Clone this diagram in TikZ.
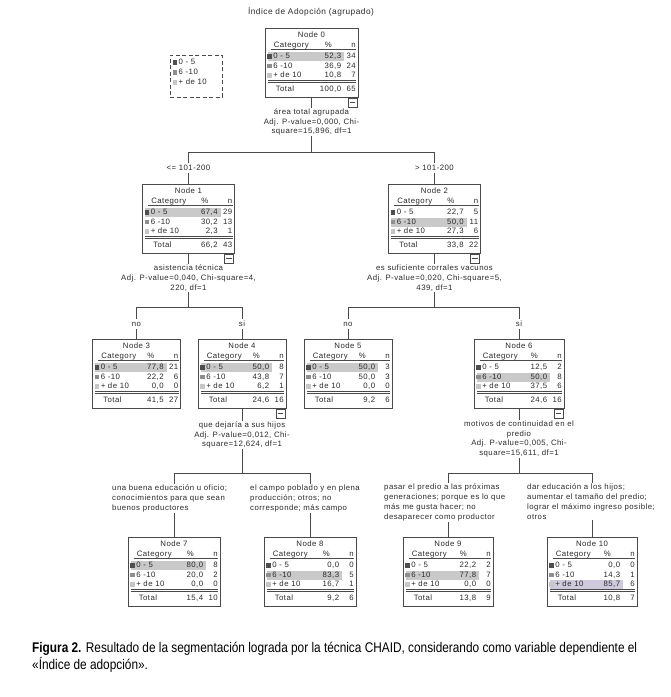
\documentclass[tikz,border=0pt]{standalone}
\usepackage{fontspec}
\usepackage{graphicx}
\setmainfont{Liberation Sans}
\newfontfamily\spss[LetterSpace=6]{Liberation Sans}
\newfontfamily\capfont{Liberation Sans}
\usetikzlibrary{backgrounds}
\definecolor{ink}{HTML}{2A2A2A}
\definecolor{edge}{HTML}{4A4A4A}
\definecolor{hlc}{HTML}{C9C9C9}
\definecolor{hlp}{HTML}{CFC9DD}
\definecolor{mka}{HTML}{4E4E4E}
\definecolor{mkb}{HTML}{8E8E8E}
\definecolor{mkc}{HTML}{C6C6C6}
\tikzset{
  fnt/.style={font=\spss\fontsize{7.8}{9.7}\selectfont, text=ink},
  tx/.style={fnt, inner sep=0pt, text height=5.6pt, text depth=1.6pt},
  tbox/.style={draw=edge, line width=0.8pt, fill=white, minimum height=69pt, inner sep=0pt},
  rule/.style={draw=edge, line width=0.6pt},
  conn/.style={draw=edge, line width=0.8pt},
  splitlbl/.style={fnt, align=center, fill=white, inner xsep=2pt, inner ysep=1pt},
  branchlbl/.style={tx, fill=white, inner sep=1.5pt},
  leaflbl/.style={fnt, align=left, fill=white, inner sep=1pt, anchor=north west},
  minusbox/.style={draw=edge, line width=0.6pt, fill=white, minimum size=9pt, inner sep=0pt},
}
\newcommand\hlcol{hlc}
% #1 name, #2 centre x, #3 top y, #4 width, #5 number, #6 highlighted row, #7 minus box
\newcommand\tbl[7]{%
  \node[tbox, minimum width=#4pt, anchor=north] (#1) at (#2,#3) {};
  \pgfmathsetmacro\hlt{14.5+9.5*#6}%
  \pgfmathsetmacro\hlb{23.5+9.5*#6}%
  \fill[\hlcol] ([shift={(3,\hlt)}]#1.north west) rectangle ([shift={(-14,\hlb)}]#1.north east);
  \node[tx] (#1t) at ([shift={(0,7)}]#1.north) {Node #5};
  \node[tx, anchor=west] (#1ca) at ([shift={(9,17)}]#1.north west) {Category};
  \node[tx] (#1pc) at ([shift={(-30,17)}]#1.north east) {\%};
  \node[tx, anchor=east] (#1nh) at ([shift={(-2.5,17)}]#1.north east) {n};
  \draw[rule] ([shift={(6,21.5)}]#1.north west) -- ([shift={(-2,21.5)}]#1.north east);
  \fill[mka] ([shift={(2.5,26.3)}]#1.north west) rectangle ++(4.5,4.5);
  \fill[mkb] ([shift={(2.5,35.8)}]#1.north west) rectangle ++(4.5,4.5);
  \fill[mkc] ([shift={(2.5,45.3)}]#1.north west) rectangle ++(4.5,4.5);
  \node[tx, anchor=west] (#1c1) at ([shift={(8.5,28.5)}]#1.north west) {0 - 5};
  \node[tx, anchor=west] (#1c2) at ([shift={(8.5,38)}]#1.north west) {6 -10};
  \node[tx, anchor=west] (#1c3) at ([shift={(8.5,47.5)}]#1.north west) {+ de 10};
  \draw[rule] ([shift={(3,52.6)}]#1.north west) -- ([shift={(-2,52.6)}]#1.north east);
  \draw[rule] ([shift={(3,54.4)}]#1.north west) -- ([shift={(-2,54.4)}]#1.north east);
  \node[tx, anchor=west] (#1tt) at ([shift={(11,61.5)}]#1.north west) {Total};
  \ifnum#7=1
    \node[minusbox, anchor=north east] (#1m) at ([shift={(-1,0)}]#1.south east) {};
    \draw[rule] ([xshift=2pt]#1m.west) -- ([xshift=-2pt]#1m.east);
  \fi
}
% #1 name, then % and n of the three rows and of the total
\newcommand\trows[9]{%
  \node[tx, anchor=east] (#1p1) at ([shift={(-17,28.5)}]#1.north east) {#2};
  \node[tx, anchor=east] (#1n1) at ([shift={(-2.5,28.5)}]#1.north east) {#3};
  \node[tx, anchor=east] (#1p2) at ([shift={(-17,38)}]#1.north east) {#4};
  \node[tx, anchor=east] (#1n2) at ([shift={(-2.5,38)}]#1.north east) {#5};
  \node[tx, anchor=east] (#1p3) at ([shift={(-17,47.5)}]#1.north east) {#6};
  \node[tx, anchor=east] (#1n3) at ([shift={(-2.5,47.5)}]#1.north east) {#7};
  \node[tx, anchor=east] (#1pt) at ([shift={(-17,61.5)}]#1.north east) {#8};
  \node[tx, anchor=east] (#1nt) at ([shift={(-2.5,61.5)}]#1.north east) {#9};
}
\newcommand\capA{{\bfseries Figura 2.} Resultado de la segmentación lograda por la técnica CHAID, considerando como variable dependiente el}
\newsavebox\capbox
\begin{document}
\sbox\capbox{\capfont\fontsize{14}{18}\selectfont\capA}%
\begin{tikzpicture}[x=1pt,y=-1pt]
\useasboundingbox (0,0) rectangle (671,697);
\pgfmathsetmacro\capr{605/\wd\capbox}

% title and legend
\node[fnt, font=\spss\fontsize{8.3}{9.7}\selectfont] (title) at (311,12) {Índice de Adopción (agrupado)};
\node[draw=edge, line width=0.7pt, dash pattern=on 4pt off 2.5pt, minimum width=52pt, minimum height=42pt, inner sep=0pt, anchor=north west] (legend) at (170,55) {};
\fill[mka] ([shift={(2.5,5)}]legend.north west) rectangle ++(4.5,4.5);
\fill[mkb] ([shift={(2.5,15)}]legend.north west) rectangle ++(4.5,4.5);
\fill[mkc] ([shift={(2.5,25)}]legend.north west) rectangle ++(4.5,4.5);
\node[tx, anchor=west] (lg1) at ([shift={(8.5,7.3)}]legend.north west) {0 - 5};
\node[tx, anchor=west] (lg2) at ([shift={(8.5,17.3)}]legend.north west) {6 -10};
\node[tx, anchor=west] (lg3) at ([shift={(8.5,27.3)}]legend.north west) {+ de 10};

% tables
\tbl{n0}{311.5}{28}{93}{0}{1}{1}
\trows{n0}{52,3}{34}{36,9}{24}{10,8}{7}{100,0}{65}
\tbl{n1}{188.5}{184}{92}{1}{1}{1}
\trows{n1}{67,4}{29}{30,2}{13}{2,3}{1}{66,2}{43}
\tbl{n2}{434.5}{184}{92}{2}{2}{1}
\trows{n2}{22,7}{5}{50,0}{11}{27,3}{6}{33,8}{22}
\tbl{n3}{136.5}{339}{88}{3}{1}{0}
\trows{n3}{77,8}{21}{22,2}{6}{0,0}{0}{41,5}{27}
\tbl{n4}{242}{339}{88}{4}{1}{1}
\trows{n4}{50,0}{8}{43,8}{7}{6,2}{1}{24,6}{16}
\tbl{n5}{348}{339}{88}{5}{1}{0}
\trows{n5}{50,0}{3}{50,0}{3}{0,0}{0}{9,2}{6}
\tbl{n6}{519}{339}{90}{6}{2}{1}
\trows{n6}{12,5}{2}{50,0}{8}{37,5}{6}{24,6}{16}
\tbl{n7}{174}{537}{92}{7}{1}{0}
\trows{n7}{80,0}{8}{20,0}{2}{0,0}{0}{15,4}{10}
\tbl{n8}{310}{537}{92}{8}{2}{0}
\trows{n8}{0,0}{0}{83,3}{5}{16,7}{1}{9,2}{6}
\tbl{n9}{448}{537}{90}{9}{2}{0}
\trows{n9}{22,2}{2}{77,8}{7}{0,0}{0}{13,8}{9}
\renewcommand\hlcol{hlp}
\tbl{n10}{592}{537}{90}{10}{3}{0}
\trows{n10}{0,0}{0}{14,3}{1}{85,7}{6}{10,8}{7}

% split labels
\node[splitlbl] (s0) at (311.5,122) {área total agrupada\\Adj. P-value=0,000, Chi-\\square=15,896, df=1};
\node[splitlbl] (s1) at (188.5,278) {asistencia técnica\\Adj. P-value=0,040, Chi-square=4,\\220, df=1};
\node[splitlbl] (s2) at (434.5,278) {es suficiente corrales vacunos\\Adj. P-value=0,020, Chi-square=5,\\439, df=1};
\node[splitlbl] (s4) at (242,435) {que dejaría a sus hijos\\Adj. P-value=0,012, Chi-\\square=12,624, df=1};
\node[splitlbl] (s6) at (519,439) {motivos de continuidad en el\\predio\\Adj. P-value=0,005, Chi-\\square=15,611, df=1};

% branch labels
\node[branchlbl] (e1) at (n1.north |- 0,168) {<= 101-200};
\node[branchlbl] (e2) at (n2.north |- 0,168) {> 101-200};
\node[branchlbl] (e3) at (n3.north |- 0,324) {no};
\node[branchlbl] (e4) at (n4.north |- 0,324) {si};
\node[branchlbl] (e5) at (n5.north |- 0,324) {no};
\node[branchlbl] (e6) at (n6.north |- 0,324) {si};
\node[leaflbl] (e7) at (111,484) {una buena educación u oficio;\\conocimientos para que sean\\buenos productores};
\node[leaflbl] (e8) at (249,484) {el campo poblado y en plena\\producción; otros; no\\corresponde; más campo};
\node[leaflbl] (e9) at (383,483) {pasar el predio a las próximas\\generaciones; porque es lo que\\más me gusta hacer; no\\desaparecer como productor};
\node[leaflbl] (e10) at (526,483) {dar educación a los hijos;\\aumentar el tamaño del predio;\\lograr el máximo ingreso posible;\\otros};

% caption
\node[anchor=base west, inner sep=0pt] (cap1) at (32,652) {\scalebox{\capr}[1]{\usebox\capbox}};
\node[anchor=base west, inner sep=0pt] (cap2) at (32,669) {\scalebox{\capr}[1]{\capfont\fontsize{14}{18}\selectfont «Índice de adopción».}};

% connectors
\begin{pgfonlayer}{background}
\fill[white] (0,0) rectangle (671,697);
\coordinate (b0) at (0,152);
\coordinate (b1) at (0,307);
\coordinate (b2) at (0,473);
\draw[conn] (n0.south) -- (n0.south |- b0);
\draw[conn] (n1.north |- b0) -- (n2.north |- b0);
\draw[conn] (n1.north |- b0) -- (n1.north);
\draw[conn] (n2.north |- b0) -- (n2.north);
\draw[conn] (n1.south) -- (n1.south |- b1);
\draw[conn] (n3.north |- b1) -- (n4.north |- b1);
\draw[conn] (n3.north |- b1) -- (n3.north);
\draw[conn] (n4.north |- b1) -- (n4.north);
\draw[conn] (n2.south) -- (n2.south |- b1);
\draw[conn] (n5.north |- b1) -- (n6.north |- b1);
\draw[conn] (n5.north |- b1) -- (n5.north);
\draw[conn] (n6.north |- b1) -- (n6.north);
\draw[conn] (n4.south) -- (n4.south |- b2);
\draw[conn] (n7.north |- b2) -- (n8.north |- b2);
\draw[conn] (n7.north |- b2) -- (n7.north);
\draw[conn] (n8.north |- b2) -- (n8.north);
\draw[conn] (n6.south) -- (n6.south |- b2);
\draw[conn] (n9.north |- b2) -- (n10.north |- b2);
\draw[conn] (n9.north |- b2) -- (n9.north);
\draw[conn] (n10.north |- b2) -- (n10.north);
\end{pgfonlayer}
\end{tikzpicture}
\end{document}
